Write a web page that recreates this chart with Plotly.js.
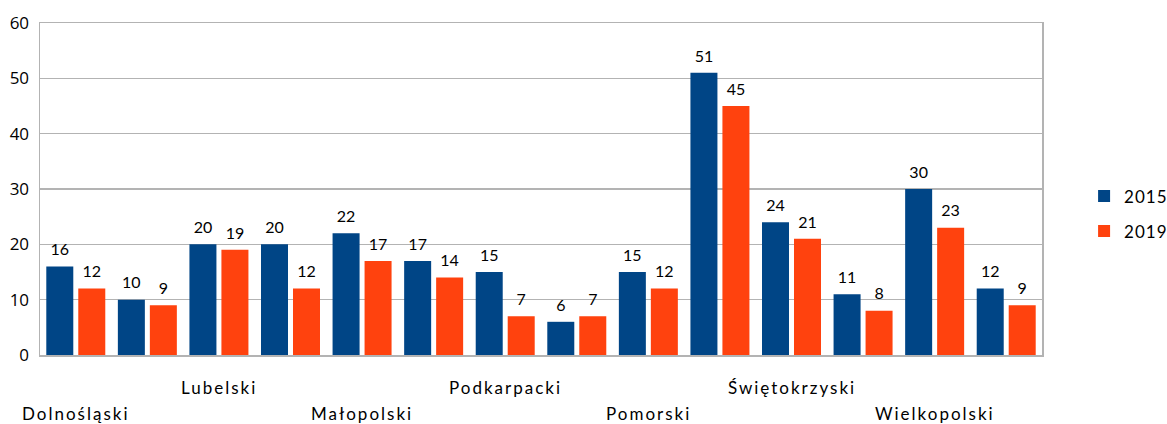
<!DOCTYPE html>
<html>
<head>
<meta charset="utf-8">
<script src="https://cdn.plot.ly/plotly-3.0.1.min.js"></script>
<style>
  html, body { margin: 0; padding: 0; background: #fff; }
  #wykres { width: 1167px; height: 424px; }
  .annotation-text { letter-spacing: 2px; }
  .legendtext { letter-spacing: 1px; }
</style>
</head>
<body>
<div id="wykres"></div>
<script>
// Dane wykresu
const pozycje = [0, 1, 2, 3, 4, 5, 6, 7, 8, 9, 10, 11, 12, 13];
const etykiety = ['Dolnośląski', '', 'Lubelski', '', 'Małopolski', '', 'Podkarpacki', '',
                  'Pomorski', '', 'Świętokrzyski', '', 'Wielkopolski', ''];
const wartosci2015 = [16, 10, 20, 20, 22, 17, 15, 6, 15, 51, 24, 11, 30, 12];
const wartosci2019 = [12, 9, 19, 12, 17, 14, 7, 7, 12, 45, 21, 8, 23, 9];
const serie = ['2015', '2019'];
const yTicki = [0, 10, 20, 30, 40, 50, 60];

const niebieski = '#004586';
const pomaranczowy = '#ff420e';
const szary = '#b3b3b3';

function seria(nazwa, wartosci, kolor) {
    return {
        type: 'bar',
        x: pozycje,
        y: wartosci,
        name: nazwa,
        legendgroup: nazwa,
        offsetgroup: nazwa,
        marker: { color: kolor },
        hoverinfo: 'x+y'
    };
}

// Etykiety wartości nad słupkami (niewidoczne znaczniki dają odstęp)
function etykietySerii(nazwa, wartosci) {
    return {
        type: 'scatter',
        mode: 'markers+text',
        x: pozycje,
        y: wartosci,
        offsetgroup: nazwa,
        showlegend: false,
        marker: { size: 10, opacity: 0 },
        text: wartosci.map(String),
        textposition: 'top center',
        cliponaxis: false,
        textfont: { family: 'Lato', size: 16, color: '#000' },
        hoverinfo: 'skip'
    };
}

const dane = [
    seria(serie[0], wartosci2015, niebieski),
    seria(serie[1], wartosci2019, pomaranczowy),
    etykietySerii(serie[0], wartosci2015),
    etykietySerii(serie[1], wartosci2019)
];

// Etykiety kategorii w dwóch rzędach (naprzemiennie dolny / górny)
const adnotacje = [];
let n = 0;
etykiety.forEach((tekst, i) => {
    if (!tekst) return;
    const dolny = n % 2 === 0;
    adnotacje.push({
        x: pozycje[i],
        xref: 'x',
        y: 0,
        yref: 'paper',
        yanchor: 'top',
        yshift: dolny ? -46 : -20,
        text: tekst,
        showarrow: false,
        font: { family: 'Lato', size: 17, color: '#000' }
    });
    n++;
});

const uklad = {
    width: 1167,
    height: 424,
    margin: { l: 40, r: 125, t: 23, b: 69, autoexpand: false },
    paper_bgcolor: '#fff',
    plot_bgcolor: '#fff',
    barmode: 'group',
    bargap: 0.106,
    bargroupgap: 0.156,
    scattermode: 'group',
    scattergap: 0.106,
    showlegend: true,
    legend: {
        x: 1.042,
        xanchor: 'left',
        y: 0.425,
        yanchor: 'middle',
        font: { family: 'Lato', size: 17, color: '#000' },
        traceorder: 'grouped',
        tracegroupgap: 10
    },
    xaxis: {
        range: [-0.5, 13.5],
        showticklabels: false,
        showgrid: false,
        zeroline: false,
        showline: true,
        mirror: true,
        linecolor: szary,
        linewidth: 1.5,
        ticks: ''
    },
    yaxis: {
        range: [0, 60],
        tickvals: yTicki,
        ticktext: yTicki.map(String),
        showgrid: true,
        gridcolor: szary,
        gridwidth: 1.3,
        zeroline: false,
        showline: true,
        mirror: true,
        linecolor: szary,
        linewidth: 1.5,
        ticks: '',
        ticklabelstandoff: 6,
        tickfont: { family: 'Open Sans', size: 17, color: '#000' }
    },
    annotations: adnotacje
};

Plotly.newPlot('wykres', dane, uklad, { displayModeBar: false, staticPlot: true });
</script>
</body>
</html>
